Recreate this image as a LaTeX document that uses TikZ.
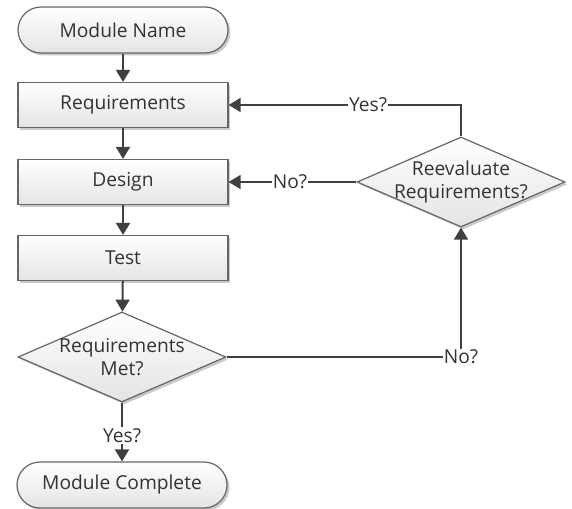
\documentclass[tikz,border=0pt]{standalone}
\usepackage{fontspec}
\setmainfont{Open Sans}
\usetikzlibrary{shapes.geometric,arrows.meta,shadows}

\definecolor{linegray}{HTML}{404040}
\definecolor{edgegray}{HTML}{666666}
\definecolor{fillgray}{HTML}{E4E4E4}
\definecolor{textgray}{HTML}{333333}

\tikzset{
  every node/.style={font=\fontsize{9.6}{11.2}\selectfont, text=textgray},
  box/.style={draw=edgegray, line width=0.6pt, top color=white, bottom color=fillgray,
    drop shadow={shadow xshift=1.2pt, shadow yshift=-1.2pt, fill=black!35, opacity=0.6}},
  procbox/.style={box, rectangle, minimum width=105pt, minimum height=22.5pt},
  termbox/.style={box, rectangle, rounded corners=11.5pt, minimum width=105pt, minimum height=23pt},
  decbox/.style={box, diamond, shape aspect=2.3, inner ysep=0pt, inner xsep=-12pt,
    minimum width=104pt, minimum height=45pt, align=center},
  flow/.style={-{Triangle[width=7pt,length=6pt]}, draw=linegray, line width=1pt},
  side/.style={-{Triangle[width=7pt,length=6pt]}, draw=linegray, line width=0.7pt},
  lbl/.style={fill=white, inner sep=0.5pt}
}

\begin{document}
\begin{tikzpicture}[x=0.5pt, y=-0.5pt]
    \useasboundingbox (0,0) rectangle (572,508);

    \node[termbox] at (123,30) (start) {Module Name};
    \node[procbox] at (123,105) (req) {Requirements};
    \node[procbox] at (123,182) (design) {Design};
    \node[procbox] at (123,258) (test) {Test};
    \node[decbox] at (122,357) (met) {Requirements\\Met?};
    \node[termbox] at (122,485) (done) {Module Complete};
    \node[decbox] at (461,182) (reeval) {Reevaluate\\Requirements?};

    \draw[flow] (start) to (req);
    \draw[flow] (req) to (design);
    \draw[flow] (design) to (test);
    \draw[flow] (test) to (met);
    \draw[flow] (met) to node[lbl, pos=0.56] {Yes?} (done);

    \draw[side] (met.east) -| node[lbl, pos=0.5] {No?} (reeval.south);
    \draw[side] (reeval.west) to node[lbl, pos=0.52] {No?} (design.east);
    \draw[side] (reeval.north) |- node[lbl, pos=0.7] {Yes?} (req.east);
  \end{tikzpicture}
\end{document}
